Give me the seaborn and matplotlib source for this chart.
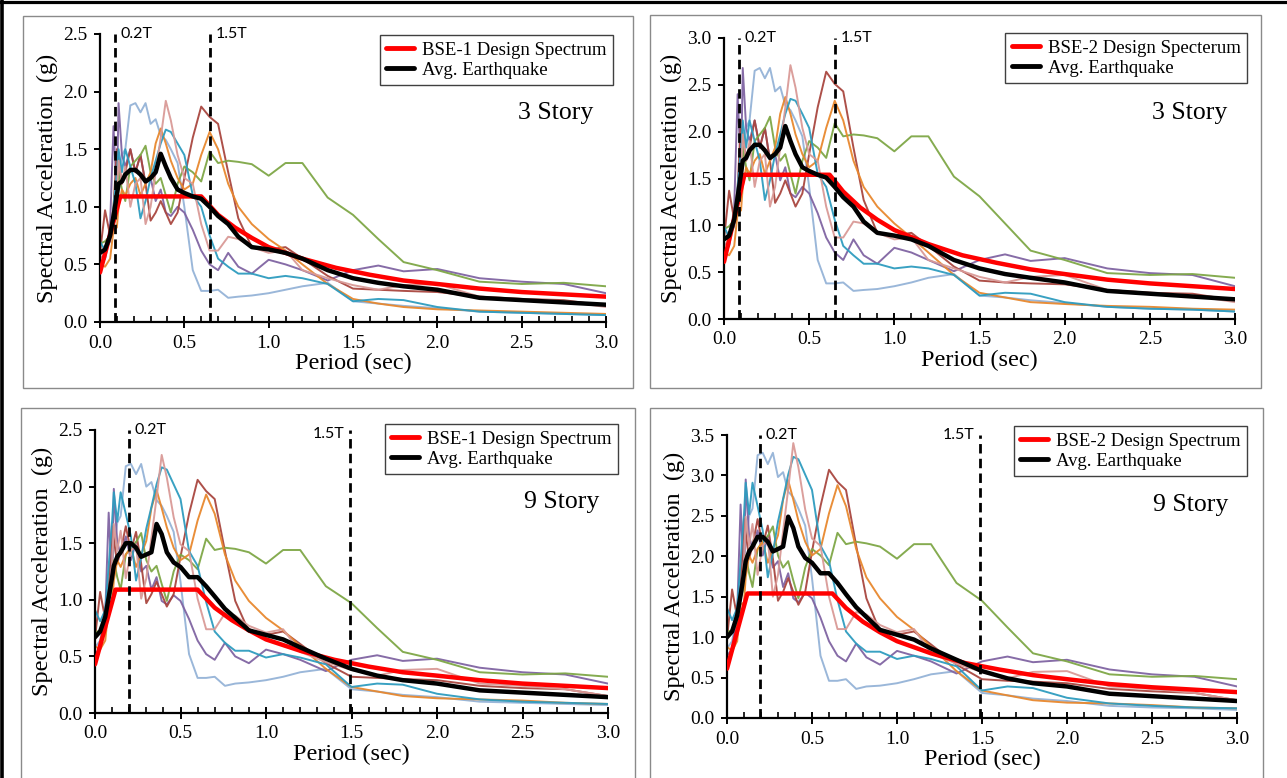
import matplotlib
matplotlib.use("Agg")
import matplotlib.pyplot as plt
import seaborn as sns
from matplotlib.patches import Rectangle
from matplotlib.lines import Line2D
from matplotlib.ticker import MultipleLocator, FormatStrFormatter

# ---------------- data ----------------
period = [0.00, 0.03, 0.06, 0.08, 0.10, 0.11, 0.13, 0.15, 0.18, 0.21, 0.24, 0.27, 0.30,
          0.33, 0.36, 0.39, 0.42, 0.46, 0.50, 0.55, 0.60, 0.65, 0.70, 0.76, 0.82, 0.90,
          1.00, 1.10, 1.20, 1.35, 1.50, 1.65, 1.80, 2.00, 2.25, 2.50, 2.75, 3.00]

# 3 Story, BSE-1
lb_3s1 = [0.50,0.55,0.75,0.95,1.15,1.25,1.45,1.50,1.88,1.90,1.82,1.90,1.72,1.76,1.62,1.58,1.50,1.38,1.00,0.45,0.27,0.27,0.28,0.21,0.22,0.23,0.25,0.28,0.31,0.34,0.18,0.16,0.14,0.12,0.09,0.08,0.07,0.06]
pu_3s1 = [0.50,0.55,0.85,1.70,1.10,1.90,1.45,1.35,1.50,1.30,1.45,1.20,1.25,1.05,1.15,0.95,0.92,1.00,0.95,0.80,0.62,0.50,0.45,0.60,0.48,0.42,0.54,0.50,0.45,0.36,0.45,0.49,0.44,0.46,0.38,0.35,0.33,0.25]
br_3s1 = [0.60,0.97,0.75,1.00,1.50,1.40,1.20,1.30,1.50,1.30,1.45,1.20,0.88,0.95,1.05,0.95,0.85,0.95,1.25,1.60,1.87,1.78,1.72,1.30,0.90,0.65,0.63,0.65,0.55,0.40,0.29,0.28,0.27,0.26,0.22,0.20,0.19,0.14]
gr_3s1 = [0.68,0.70,0.75,0.95,1.05,1.30,1.15,1.05,1.35,1.40,1.45,1.53,1.30,1.20,1.25,1.10,0.95,1.20,1.35,1.30,1.22,1.48,1.38,1.40,1.39,1.37,1.27,1.38,1.38,1.08,0.93,0.72,0.52,0.45,0.35,0.33,0.34,0.31]
or_3s1 = [0.50,0.48,0.55,0.80,0.82,1.00,1.15,1.10,1.20,1.25,1.10,1.20,1.30,1.55,1.68,1.55,1.40,1.25,1.15,1.20,1.45,1.65,1.50,1.20,1.00,0.85,0.72,0.62,0.50,0.33,0.20,0.16,0.13,0.11,0.10,0.09,0.08,0.07]
te_3s1 = [0.70,0.62,0.70,1.00,1.30,1.50,1.30,1.50,1.35,1.20,0.90,1.05,1.25,1.40,1.55,1.67,1.65,1.55,1.45,1.10,1.00,0.75,0.55,0.48,0.42,0.42,0.38,0.40,0.38,0.33,0.18,0.20,0.19,0.13,0.09,0.08,0.07,0.06]
pk_3s1 = [0.55,0.60,0.75,0.85,1.10,1.40,1.20,1.35,1.00,1.20,1.25,0.85,1.00,1.30,1.60,1.92,1.75,1.45,1.25,1.20,0.85,0.62,0.62,0.74,0.72,0.65,0.60,0.62,0.45,0.38,0.32,0.28,0.32,0.33,0.22,0.20,0.18,0.13]
avg_3s1 = [0.60,0.63,0.75,0.92,1.10,1.20,1.22,1.28,1.32,1.32,1.28,1.22,1.25,1.30,1.46,1.35,1.25,1.15,1.12,1.09,1.07,1.00,0.92,0.85,0.74,0.65,0.63,0.60,0.55,0.45,0.38,0.34,0.31,0.28,0.21,0.19,0.17,0.15]

# 3 Story, BSE-2
lb_3s2 = [0.71,0.78,1.06,1.34,1.62,1.76,2.04,2.12,2.65,2.68,2.57,2.68,2.43,2.48,2.28,2.23,2.12,1.95,1.41,0.63,0.38,0.38,0.39,0.30,0.31,0.32,0.35,0.39,0.44,0.48,0.25,0.23,0.20,0.17,0.13,0.11,0.10,0.08]
pu_3s2 = [0.71,0.78,1.20,2.40,1.55,2.68,2.04,1.90,2.12,1.83,2.04,1.69,1.76,1.48,1.62,1.34,1.30,1.41,1.34,1.13,0.87,0.71,0.63,0.85,0.68,0.59,0.76,0.71,0.63,0.51,0.63,0.69,0.62,0.65,0.54,0.49,0.47,0.35]
br_3s2 = [0.85,1.37,1.06,1.41,2.12,1.97,1.69,1.83,2.12,1.83,2.04,1.69,1.24,1.34,1.48,1.34,1.20,1.34,1.76,2.26,2.64,2.51,2.43,1.83,1.27,0.92,0.89,0.92,0.78,0.56,0.41,0.39,0.38,0.37,0.31,0.28,0.27,0.20]
gr_3s2 = [0.96,0.99,1.06,1.34,1.48,1.83,1.62,1.48,1.90,1.97,2.04,2.16,1.83,1.69,1.76,1.55,1.34,1.69,1.90,1.83,1.72,2.09,1.95,1.97,1.96,1.93,1.79,1.95,1.95,1.52,1.31,1.02,0.73,0.63,0.49,0.47,0.48,0.44]
or_3s2 = [0.71,0.68,0.78,1.13,1.16,1.41,1.62,1.55,1.69,1.76,1.55,1.69,1.83,2.19,2.37,2.19,1.97,1.76,1.62,1.69,2.04,2.33,2.12,1.69,1.41,1.20,1.02,0.87,0.71,0.47,0.28,0.23,0.18,0.16,0.14,0.13,0.11,0.10]
te_3s2 = [0.99,0.87,0.99,1.41,1.83,2.12,1.83,2.12,1.90,1.69,1.27,1.48,1.76,1.97,2.19,2.35,2.33,2.19,2.04,1.55,1.41,1.06,0.78,0.68,0.59,0.59,0.54,0.56,0.54,0.47,0.25,0.28,0.27,0.18,0.13,0.11,0.10,0.08]
pk_3s2 = [0.78,0.85,1.06,1.20,1.55,1.97,1.69,1.90,1.41,1.69,1.76,1.20,1.41,1.83,2.26,2.71,2.47,2.04,1.76,1.69,1.20,0.87,0.87,1.04,1.02,0.92,0.85,0.87,0.63,0.54,0.45,0.39,0.45,0.47,0.31,0.28,0.25,0.18]
avg_3s2 = [0.85,0.89,1.06,1.30,1.55,1.69,1.72,1.80,1.86,1.86,1.80,1.72,1.76,1.83,2.06,1.90,1.76,1.62,1.58,1.54,1.51,1.41,1.30,1.20,1.04,0.92,0.89,0.85,0.78,0.63,0.54,0.48,0.44,0.39,0.30,0.27,0.24,0.21]

# 9 Story, BSE-1
lb_9s1 = [0.58,0.64,0.87,1.10,1.33,1.45,1.68,1.74,2.18,2.20,2.11,2.20,2.00,2.04,1.88,1.83,1.74,1.60,1.16,0.52,0.31,0.31,0.32,0.24,0.26,0.27,0.29,0.32,0.36,0.39,0.21,0.19,0.16,0.14,0.10,0.09,0.08,0.07]
pu_9s1 = [0.52,0.57,0.88,1.77,1.14,1.98,1.51,1.40,1.56,1.35,1.51,1.25,1.30,1.09,1.20,0.99,0.96,1.04,0.99,0.83,0.64,0.52,0.47,0.62,0.50,0.44,0.56,0.52,0.47,0.37,0.47,0.51,0.46,0.48,0.40,0.36,0.34,0.26]
br_9s1 = [0.66,1.07,0.83,1.10,1.65,1.54,1.32,1.43,1.65,1.43,1.60,1.32,0.97,1.05,1.16,1.05,0.94,1.05,1.38,1.76,2.06,1.96,1.89,1.43,0.99,0.72,0.69,0.72,0.61,0.44,0.32,0.31,0.30,0.29,0.24,0.22,0.21,0.15]
gr_9s1 = [0.71,0.73,0.78,0.99,1.09,1.35,1.20,1.09,1.40,1.46,1.51,1.59,1.35,1.25,1.30,1.14,0.99,1.25,1.40,1.35,1.27,1.54,1.44,1.46,1.45,1.42,1.32,1.44,1.44,1.12,0.97,0.75,0.54,0.47,0.36,0.34,0.35,0.32]
or_9s1 = [0.59,0.56,0.64,0.94,0.96,1.17,1.35,1.29,1.40,1.46,1.29,1.40,1.52,1.81,1.97,1.81,1.64,1.46,1.35,1.40,1.70,1.93,1.76,1.40,1.17,0.99,0.84,0.73,0.59,0.39,0.23,0.19,0.15,0.13,0.12,0.11,0.09,0.08]
te_9s1 = [0.91,0.81,0.91,1.30,1.69,1.95,1.69,1.95,1.76,1.56,1.17,1.37,1.63,1.82,2.02,2.17,2.15,2.02,1.89,1.43,1.30,0.98,0.72,0.62,0.55,0.55,0.49,0.52,0.49,0.43,0.23,0.26,0.25,0.17,0.12,0.10,0.09,0.08]
pk_9s1 = [0.65,0.71,0.89,1.01,1.31,1.67,1.43,1.61,1.19,1.43,1.49,1.01,1.19,1.55,1.90,2.28,2.08,1.73,1.49,1.43,1.01,0.74,0.74,0.88,0.86,0.77,0.71,0.74,0.54,0.45,0.38,0.33,0.38,0.39,0.26,0.24,0.21,0.15]
avg_9s1 = [0.67,0.72,0.85,1.02,1.20,1.30,1.38,1.42,1.50,1.50,1.46,1.38,1.40,1.42,1.67,1.58,1.42,1.33,1.29,1.20,1.20,1.12,1.03,0.92,0.84,0.73,0.69,0.65,0.58,0.48,0.39,0.33,0.29,0.26,0.20,0.18,0.16,0.14]

# 9 Story, BSE-2
lb_9s2 = [0.86,0.95,1.30,1.64,1.98,2.16,2.50,2.59,3.25,3.28,3.14,3.28,2.98,3.04,2.80,2.73,2.59,2.38,1.73,0.77,0.46,0.46,0.48,0.36,0.39,0.40,0.43,0.48,0.54,0.58,0.31,0.28,0.24,0.21,0.15,0.13,0.12,0.10]
pu_9s2 = [0.77,0.85,1.31,2.64,1.70,2.95,2.25,2.09,2.32,2.01,2.25,1.86,1.94,1.62,1.79,1.48,1.43,1.55,1.48,1.24,0.95,0.77,0.70,0.92,0.75,0.66,0.83,0.77,0.70,0.55,0.70,0.76,0.69,0.72,0.60,0.54,0.51,0.39]
br_9s2 = [0.98,1.59,1.24,1.64,2.46,2.29,1.97,2.13,2.46,2.13,2.38,1.97,1.45,1.56,1.73,1.56,1.40,1.56,2.06,2.62,3.07,2.92,2.82,2.13,1.48,1.07,1.03,1.07,0.91,0.66,0.48,0.46,0.45,0.43,0.36,0.33,0.31,0.22]
gr_9s2 = [1.06,1.09,1.16,1.48,1.62,2.01,1.79,1.62,2.09,2.18,2.25,2.37,2.01,1.86,1.94,1.70,1.48,1.86,2.09,2.01,1.89,2.29,2.15,2.18,2.16,2.12,1.97,2.15,2.15,1.67,1.45,1.12,0.80,0.70,0.54,0.51,0.52,0.48]
or_9s2 = [0.88,0.83,0.95,1.40,1.43,1.74,2.01,1.92,2.09,2.18,1.92,2.09,2.26,2.70,2.94,2.70,2.44,2.18,2.01,2.09,2.53,2.88,2.62,2.09,1.74,1.48,1.25,1.09,0.88,0.58,0.34,0.28,0.22,0.19,0.18,0.16,0.13,0.12]
te_9s2 = [1.36,1.21,1.36,1.94,2.52,2.91,2.52,2.91,2.62,2.32,1.74,2.04,2.43,2.71,3.01,3.23,3.20,3.01,2.82,2.13,1.94,1.46,1.07,0.92,0.82,0.82,0.73,0.77,0.73,0.64,0.34,0.39,0.37,0.25,0.18,0.15,0.13,0.12]
pk_9s2 = [0.97,1.06,1.33,1.50,1.95,2.49,2.13,2.40,1.77,2.13,2.22,1.50,1.77,2.31,2.83,3.40,3.10,2.58,2.22,2.13,1.50,1.10,1.10,1.31,1.28,1.15,1.06,1.10,0.80,0.67,0.57,0.49,0.57,0.58,0.39,0.36,0.31,0.22]
avg_9s2 = [1.00,1.07,1.27,1.52,1.79,1.94,2.06,2.12,2.24,2.24,2.18,2.06,2.09,2.12,2.49,2.35,2.12,1.98,1.92,1.79,1.79,1.67,1.53,1.37,1.25,1.09,1.03,0.97,0.86,0.72,0.58,0.49,0.43,0.39,0.30,0.27,0.24,0.21]

# design spectra
ds1_period = [0.00, 0.12, 0.60, 0.70, 0.80, 0.90, 1.00, 1.20, 1.40, 1.60, 1.80, 2.00, 2.25, 2.50, 2.75, 3.00]
ds1_sa = [0.43, 1.09, 1.09, 0.93, 0.82, 0.73, 0.65, 0.55, 0.47, 0.41, 0.36, 0.33, 0.29, 0.26, 0.24, 0.22]
ds2_period = [0.00, 0.12, 0.62, 0.70, 0.80, 0.90, 1.00, 1.20, 1.40, 1.60, 1.80, 2.00, 2.25, 2.50, 2.75, 3.00]
ds2_sa = [0.61, 1.54, 1.54, 1.36, 1.19, 1.06, 0.95, 0.80, 0.68, 0.60, 0.53, 0.48, 0.42, 0.38, 0.35, 0.32]

# marker periods (0.2T and 1.5T)
marks_3s = [0.086, 0.65]
marks_9s = [0.196, 1.49]

legend_labels = [["BSE-1 Design Spectrum", "Avg. Earthquake"],
                 ["BSE-2 Design Specterum", "Avg. Earthquake"],
                 ["BSE-1 Design Spectrum", "Avg. Earthquake"],
                 ["BSE-2 Design Spectrum", "Avg. Earthquake"]]
story_labels = ["3 Story", "3 Story", "9 Story", "9 Story"]
y_max = [2.5, 3.0, 2.5, 3.5]

record_colors = ["#95B3D7", "#8064A2", "#A9463F", "#7EA746", "#E8882E", "#2E9CBF", "#D99A97"]

# ---------------- figure ----------------
sns.set_theme(style="white")
plt.rcParams['font.family'] = ['Liberation Serif', 'DejaVu Serif']
plt.rcParams['text.color'] = 'black'
plt.rcParams['axes.labelcolor'] = 'black'
plt.rcParams['xtick.color'] = 'black'
plt.rcParams['ytick.color'] = 'black'

W, H = 1287, 778
fig = plt.figure(figsize=(W / 100, H / 100), dpi=100)
fig.patch.set_facecolor('white')

def fx(px):
    return px / W

def fy(py):
    return 1 - py / H

# panel boxes (pixel coords: x0, y0, x1, y1)
boxes = [(23, 16, 633, 388), (650, 15, 1261, 388), (21, 408, 635, 790), (650, 408, 1263, 790)]
for (x0, y0, x1, y1) in boxes:
    fig.add_artist(Rectangle((fx(x0), fy(y1)), fx(x1 - x0), (y1 - y0) / H,
                             transform=fig.transFigure, fill=False,
                             edgecolor='#8a8a8a', linewidth=1.0, zorder=0))
# outer black frame (top and left)
fig.add_artist(Line2D([0, 1], [fy(1.5), fy(1.5)], transform=fig.transFigure, color='black', lw=2.3))
fig.add_artist(Line2D([fx(1.8), fx(1.8)], [0, 1], transform=fig.transFigure, color='black', lw=2.6))

# axes rectangles (pixel coords: left, right, bottom, top)
ax_px = [(100, 606, 322, 34), (724, 1235, 319, 38), (95, 608, 713, 430), (727, 1237, 718, 435)]
legend_px = [(613, 35), (1247, 33), (618, 424), (1247, 426)]
story_px = [(593, 113), (1227, 113), (599, 502), (1228, 505)]

panel_records = [
    [lb_3s1, pu_3s1, br_3s1, gr_3s1, or_3s1, te_3s1, pk_3s1],
    [lb_3s2, pu_3s2, br_3s2, gr_3s2, or_3s2, te_3s2, pk_3s2],
    [lb_9s1, pu_9s1, br_9s1, gr_9s1, or_9s1, te_9s1, pk_9s1],
    [lb_9s2, pu_9s2, br_9s2, gr_9s2, or_9s2, te_9s2, pk_9s2],
]
panel_avg = [avg_3s1, avg_3s2, avg_9s1, avg_9s2]
panel_ds = [(ds1_period, ds1_sa), (ds2_period, ds2_sa), (ds1_period, ds1_sa), (ds2_period, ds2_sa)]
panel_marks = [marks_3s, marks_3s, marks_9s, marks_9s]

mark_font = ['Lato', 'DejaVu Sans']

for i in range(4):
    l, r, b, t = ax_px[i]
    ax = fig.add_axes([fx(l), fy(b), (r - l) / W, (b - t) / H])
    ax.set_facecolor('none')

    for vals, col in zip(panel_records[i], record_colors):
        sns.lineplot(x=period, y=vals, ax=ax, color=col, linewidth=1.4,
                     sort=False, estimator=None, legend=False, alpha=0.95, zorder=2)
    dsx, dsy = panel_ds[i]
    sns.lineplot(x=dsx, y=dsy, ax=ax, color='#FF0000', linewidth=3.2,
                 sort=False, estimator=None, legend=False, zorder=3,
                 label=legend_labels[i][0])
    sns.lineplot(x=period, y=panel_avg[i], ax=ax, color='black', linewidth=3.2,
                 sort=False, estimator=None, legend=False, zorder=4,
                 label=legend_labels[i][1])

    ymax = y_max[i]
    ax.set_xlim(0, 3.0)
    ax.set_ylim(0, ymax)

    # marker lines
    m02, m15 = panel_marks[i]
    for m in (m02, m15):
        ax.axvline(m, ymin=0, ymax=1, color='black', lw=2.0,
                   linestyle=(0, (3.4, 1.9)), zorder=5)
    ax.annotate("0.2T", xy=(m02, ymax), xytext=(4, 0), textcoords='offset points',
                ha='left', va='center', fontsize=11.5, family=mark_font)
    if i < 2:
        ax.annotate("1.5T", xy=(m15, ymax), xytext=(4, 0), textcoords='offset points',
                    ha='left', va='center', fontsize=11.5, family=mark_font)
    else:
        ax.annotate("1.5T", xy=(m15, ymax), xytext=(-4, -3 if i == 2 else 0),
                    textcoords='offset points',
                    ha='right', va='center', fontsize=11.5, family=mark_font)

    # spines & ticks
    for s in ('top', 'right'):
        ax.spines[s].set_visible(False)
    for s in ('left', 'bottom'):
        ax.spines[s].set_color('black')
        ax.spines[s].set_linewidth(1.6)
    ax.xaxis.set_major_locator(MultipleLocator(0.5))
    ax.xaxis.set_minor_locator(MultipleLocator(0.1))
    ax.yaxis.set_major_locator(MultipleLocator(0.5))
    ax.xaxis.set_major_formatter(FormatStrFormatter('%.1f'))
    ax.yaxis.set_major_formatter(FormatStrFormatter('%.1f'))
    ax.tick_params(axis='x', which='major', bottom=True, direction='inout', length=8,
                   width=1.4, labelsize=14, pad=5)
    ax.tick_params(axis='x', which='minor', bottom=True, direction='in', length=4, width=1.2)
    ax.tick_params(axis='y', which='major', left=True, direction='out', length=4,
                   width=1.4, labelsize=14, pad=5)
    ax.tick_params(axis='y', which='minor', left=False)

    ax.set_xlabel("Period (sec)", fontsize=17.5, labelpad=1)
    ax.set_ylabel("Spectral Acceleration  (g)", fontsize=17.5, labelpad=4)

    # legend
    handles, labels = ax.get_legend_handles_labels()
    lx, ly = legend_px[i]
    leg = ax.legend(handles, labels, loc='upper right',
                    bbox_to_anchor=(fx(lx), fy(ly)), bbox_transform=fig.transFigure,
                    fontsize=13.5, handlelength=1.5, handletextpad=0.4,
                    borderpad=0.35, labelspacing=0.15, borderaxespad=0,
                    frameon=True, fancybox=False, framealpha=1, edgecolor='#404040')
    leg.get_frame().set_linewidth(1.0)
    for h in leg.get_lines():
        h.set_linewidth(3.5)

    sx, sy = story_px[i]
    fig.text(fx(sx), fy(sy), story_labels[i], ha='right', va='center', fontsize=18.5)

fig.savefig("out.png", dpi=100, facecolor='white')
